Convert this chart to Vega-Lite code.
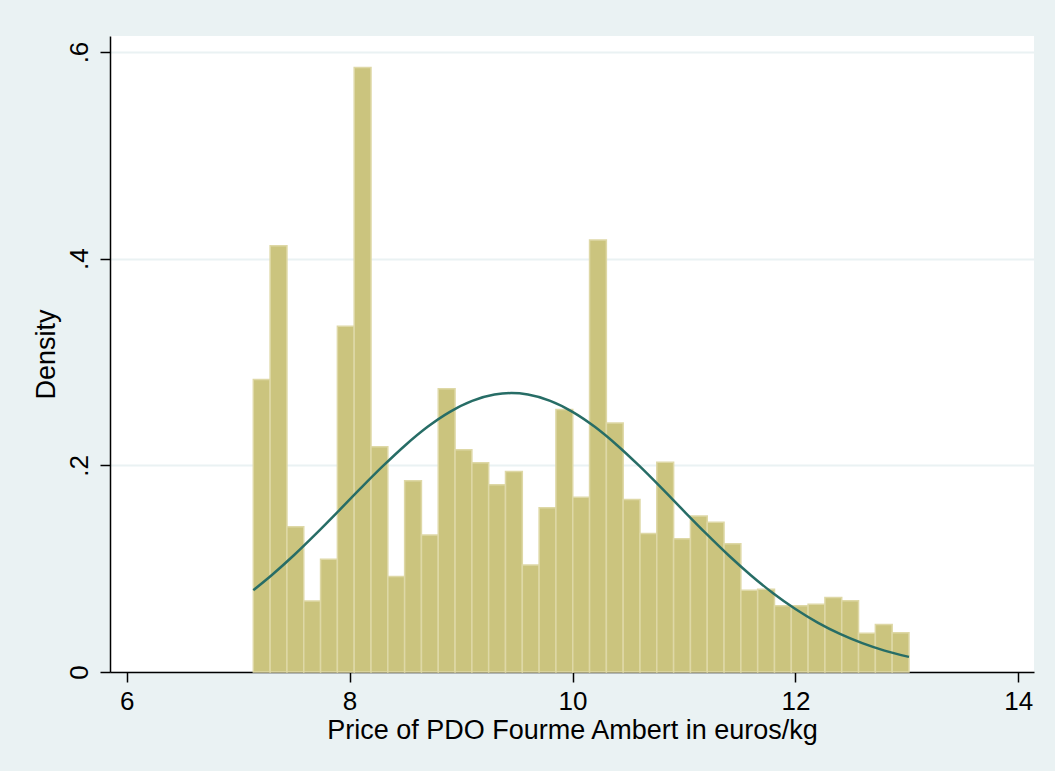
{
  "$schema": "https://vega.github.io/schema/vega-lite/v6.json",
  "width": 924,
  "height": 636,
  "autosize": {"type": "none"},
  "padding": {"left": 110, "top": 36, "right": 21, "bottom": 99},
  "background": "#EAF2F3",
  "config": {
    "view": {"fill": "white", "stroke": null},
    "font": "Liberation Sans",
    "axis": {
      "labelFont": "Liberation Sans",
      "titleFont": "Liberation Sans",
      "labelColor": "#000000",
      "titleColor": "#000000",
      "labelFontSize": 26,
      "titleFontSize": 27,
      "titleFontWeight": "normal",
      "domainColor": "#000000",
      "domainWidth": 1.5,
      "tickColor": "#000000",
      "tickWidth": 1.5,
      "tickSize": 10
    }
  },
  "datasets": {
    "bars": [
      {"bin_start": 7.1360, "bin_end": 7.2869, "density": 0.283},
      {"bin_start": 7.2869, "bin_end": 7.4377, "density": 0.4125},
      {"bin_start": 7.4377, "bin_end": 7.5886, "density": 0.1406},
      {"bin_start": 7.5886, "bin_end": 7.7394, "density": 0.0687},
      {"bin_start": 7.7394, "bin_end": 7.8903, "density": 0.109},
      {"bin_start": 7.8903, "bin_end": 8.0411, "density": 0.3347},
      {"bin_start": 8.0411, "bin_end": 8.1920, "density": 0.585},
      {"bin_start": 8.1920, "bin_end": 8.3428, "density": 0.218},
      {"bin_start": 8.3428, "bin_end": 8.4937, "density": 0.0924},
      {"bin_start": 8.4937, "bin_end": 8.6445, "density": 0.185},
      {"bin_start": 8.6445, "bin_end": 8.7954, "density": 0.1327},
      {"bin_start": 8.7954, "bin_end": 8.9462, "density": 0.274},
      {"bin_start": 8.9462, "bin_end": 9.0971, "density": 0.215},
      {"bin_start": 9.0971, "bin_end": 9.2479, "density": 0.2026},
      {"bin_start": 9.2479, "bin_end": 9.3988, "density": 0.1813},
      {"bin_start": 9.3988, "bin_end": 9.5496, "density": 0.194},
      {"bin_start": 9.5496, "bin_end": 9.7005, "density": 0.1036},
      {"bin_start": 9.7005, "bin_end": 9.8513, "density": 0.159},
      {"bin_start": 9.8513, "bin_end": 10.0022, "density": 0.254},
      {"bin_start": 10.0022, "bin_end": 10.1530, "density": 0.169},
      {"bin_start": 10.1530, "bin_end": 10.3039, "density": 0.418},
      {"bin_start": 10.3039, "bin_end": 10.4547, "density": 0.241},
      {"bin_start": 10.4547, "bin_end": 10.6056, "density": 0.167},
      {"bin_start": 10.6056, "bin_end": 10.7564, "density": 0.134},
      {"bin_start": 10.7564, "bin_end": 10.9073, "density": 0.203},
      {"bin_start": 10.9073, "bin_end": 11.0581, "density": 0.129},
      {"bin_start": 11.0581, "bin_end": 11.2090, "density": 0.151},
      {"bin_start": 11.2090, "bin_end": 11.3598, "density": 0.145},
      {"bin_start": 11.3598, "bin_end": 11.5107, "density": 0.124},
      {"bin_start": 11.5107, "bin_end": 11.6615, "density": 0.079},
      {"bin_start": 11.6615, "bin_end": 11.8124, "density": 0.080},
      {"bin_start": 11.8124, "bin_end": 11.9632, "density": 0.064},
      {"bin_start": 11.9632, "bin_end": 12.1141, "density": 0.064},
      {"bin_start": 12.1141, "bin_end": 12.2649, "density": 0.0655},
      {"bin_start": 12.2649, "bin_end": 12.4158, "density": 0.072},
      {"bin_start": 12.4158, "bin_end": 12.5666, "density": 0.069},
      {"bin_start": 12.5666, "bin_end": 12.7175, "density": 0.0374},
      {"bin_start": 12.7175, "bin_end": 12.8683, "density": 0.046},
      {"bin_start": 12.8683, "bin_end": 13.0192, "density": 0.038}
    ],
    "curve": [
      {"price": 7.136, "density": 0.0792},
      {"price": 7.3, "density": 0.0937},
      {"price": 7.5, "density": 0.1130},
      {"price": 7.7, "density": 0.1339},
      {"price": 7.9, "density": 0.1557},
      {"price": 8.1, "density": 0.1779},
      {"price": 8.3, "density": 0.1994},
      {"price": 8.5, "density": 0.2195},
      {"price": 8.7, "density": 0.2373},
      {"price": 8.9, "density": 0.2518},
      {"price": 9.1, "density": 0.2624},
      {"price": 9.3, "density": 0.2685},
      {"price": 9.45, "density": 0.2699},
      {"price": 9.6, "density": 0.2685},
      {"price": 9.8, "density": 0.2624},
      {"price": 10.0, "density": 0.2518},
      {"price": 10.2, "density": 0.2373},
      {"price": 10.4, "density": 0.2195},
      {"price": 10.6, "density": 0.1994},
      {"price": 10.8, "density": 0.1779},
      {"price": 11.0, "density": 0.1557},
      {"price": 11.2, "density": 0.1339},
      {"price": 11.4, "density": 0.1130},
      {"price": 11.6, "density": 0.0937},
      {"price": 11.8, "density": 0.0762},
      {"price": 12.0, "density": 0.0609},
      {"price": 12.2, "density": 0.0478},
      {"price": 12.4, "density": 0.0368},
      {"price": 12.6, "density": 0.0279},
      {"price": 12.8, "density": 0.0207},
      {"price": 13.019, "density": 0.0146}
    ]
  },
  "layer": [
    {
      "data": {"name": "bars"},
      "mark": {"type": "rect", "fill": "#CBC47E", "stroke": "#DED8A6", "strokeWidth": 1.5},
      "encoding": {
        "x": {
          "field": "bin_start", "type": "quantitative",
          "scale": {"domain": [5.85, 14.141], "nice": false, "zero": false},
          "axis": {
            "title": "Price of PDO Fourme Ambert in euros/kg",
            "values": [6, 8, 10, 12, 14],
            "format": "d",
            "grid": false,
            "labelPadding": 6,
            "titlePadding": 3
          }
        },
        "x2": {"field": "bin_end"},
        "y": {
          "field": "density", "type": "quantitative",
          "scale": {"domain": [0, 0.6155], "nice": false},
          "axis": {
            "title": "Density",
            "values": [0, 0.2, 0.4, 0.6],
            "labelExpr": "datum.value == 0 ? '0' : replace(format(datum.value, '.1f'), '0.', '.')",
            "labelAngle": -90,
            "labelAlign": "center",
            "labelBaseline": "bottom",
            "labelPadding": 8,
            "titlePadding": 6,
            "grid": true,
            "gridColor": "#EAF2F3",
            "gridWidth": 2
          }
        },
        "y2": {"datum": 0}
      }
    },
    {
      "data": {"name": "curve"},
      "mark": {"type": "line", "color": "#276D66", "strokeWidth": 2.5, "interpolate": "monotone"},
      "encoding": {
        "x": {"field": "price", "type": "quantitative"},
        "y": {"field": "density", "type": "quantitative"}
      }
    }
  ]
}
